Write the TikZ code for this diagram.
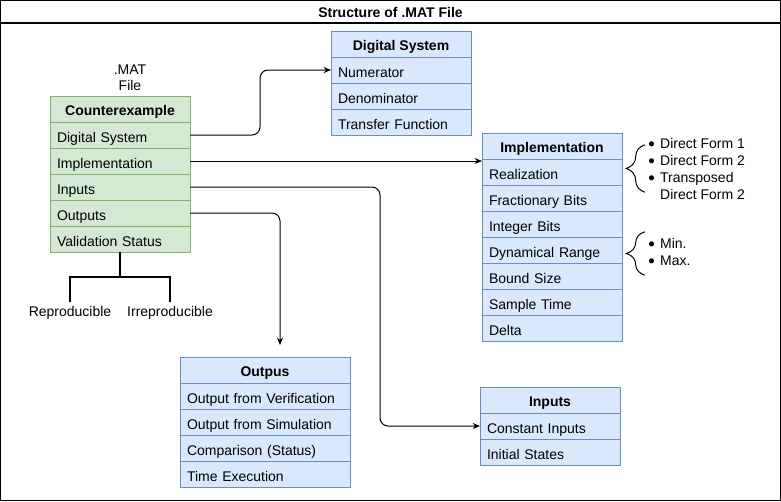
\documentclass[tikz,border=0pt]{standalone}
\usepackage{fontspec}
\setmainfont{Liberation Sans}
\usetikzlibrary{arrows.meta,decorations.pathreplacing}

\definecolor{cexfill}{HTML}{D5E8D4}
\definecolor{cexline}{HTML}{82B366}
\definecolor{boxfill}{HTML}{DAE8FC}
\definecolor{boxline}{HTML}{6C8EBF}

\newcommand\matfont{\fontsize{10.5}{12}\selectfont}
\newcommand\listfont{\fontsize{10.5}{12.75}\selectfont}
\newcommand\listdot{\raisebox{-1.3pt}{\fontsize{14}{12}\selectfont\textbullet}}

\tikzset{
  box/.style={draw, line width=0.75pt, outer sep=0pt, anchor=north west},
  head/.style={box, minimum width=#1, minimum height=19.5pt, inner sep=0pt,
    text height=9pt, text depth=0pt, font=\matfont\bfseries},
  head/.default=105pt,
  row/.style={box, text width=#1, inner xsep=5.25pt, inner ysep=0pt, minimum height=19.5pt,
    text height=11.5pt, text depth=0pt, align=left},
  row/.default=94.5pt,
  cexbox/.style={fill=cexfill, draw=cexline},
  blubox/.style={fill=boxfill, draw=boxline},
  link/.style={line width=0.75pt, rounded corners=6pt, -{Stealth[length=5.5pt,width=4.5pt]}},
  forkline/.style={line width=1.5pt},
  optlist/.style={anchor=west, inner sep=0pt, font=\listfont},
  curly/.style={line width=0.75pt, decorate, decoration={brace, amplitude=14pt}},
}

\begin{document}
\begin{tikzpicture}[x=0.75pt, y=-0.75pt, font=\matfont]
  \useasboundingbox (0,0) rectangle (781,501);

  % frame and title
  \draw[line width=0.9pt] (0.5,0.5) rectangle (780.5,500.5);
  \draw[line width=0.9pt] (0.5,23) -- (780.5,23);
  \node[font=\matfont\bfseries] (title) at (390.5,12) {Structure of .MAT File};

  % counterexample
  \node[align=center] (matfile) at (130,78) {.MAT\\File};
  \node[head, cexbox] (cexhead) at (50,96) {Counterexample};
  \node[row, cexbox] (cexds) at (cexhead.south west) {Digital System};
  \node[row, cexbox] (cexim) at (cexds.south west) {Implementation};
  \node[row, cexbox] (cexin) at (cexim.south west) {Inputs};
  \node[row, cexbox] (cexout) at (cexin.south west) {Outputs};
  \node[row, cexbox] (cexval) at (cexout.south west) {Validation Status};

  \node (repro) at (70,313) {Reproducible};
  \node (irrepro) at (170,313) {Irreproducible};
  \draw[forkline] (cexval.south) -- ++(0,25) coordinate (fork) -| (repro.north);
  \draw[forkline] (fork) -| (irrepro.north);

  % digital system
  \node[head, blubox] (dshead) at (331,31) {Digital System};
  \node[row, blubox] (dsnum) at (dshead.south west) {Numerator};
  \node[row, blubox] (dsden) at (dsnum.south west) {Denominator};
  \node[row, blubox] (dstf) at (dsden.south west) {Transfer Function};

  % implementation
  \node[head, blubox] (implhead) at (482,133) {Implementation};
  \node[row, blubox] (implreal) at (implhead.south west) {Realization};
  \node[row, blubox] (implfrac) at (implreal.south west) {Fractionary Bits};
  \node[row, blubox] (implint) at (implfrac.south west) {Integer Bits};
  \node[row, blubox] (impldyn) at (implint.south west) {Dynamical Range};
  \node[row, blubox] (implbound) at (impldyn.south west) {Bound Size};
  \node[row, blubox] (implts) at (implbound.south west) {Sample Time};
  \node[row, blubox] (impldelta) at (implts.south west) {Delta};

  \node[optlist] (realopts) at (648,171) {\begin{tabular}{@{}l@{\hspace{4pt}}l@{}}
    \listdot & Direct Form 1\\
    \listdot & Direct Form 2\\
    \listdot & Transposed\\
             & Direct Form 2
  \end{tabular}};
  \draw[curly] ([shift={(-3,-13)}]realopts.south west) -- ([shift={(-3,8)}]realopts.north west);

  \node[optlist] (rangeopts) at (648,253.5) {\begin{tabular}{@{}l@{\hspace{4pt}}l@{}}
    \listdot & Min.\\
    \listdot & Max.
  \end{tabular}};
  \draw[curly] ([shift={(-3,4.5)}]rangeopts.south west) -- ([shift={(-3,-4.5)}]rangeopts.north west);

  % outputs
  \node[head=127.5pt, blubox] (outhead) at (180,357) {Outpus};
  \node[row=117pt, blubox] (outver) at (outhead.south west) {Output from Verification};
  \node[row=117pt, blubox] (outsim) at (outver.south west) {Output from Simulation};
  \node[row=117pt, blubox] (outcmp) at (outsim.south west) {Comparison (Status)};
  \node[row=117pt, blubox] (outtime) at (outcmp.south west) {Time Execution};

  % inputs
  \node[head, blubox] (inhead) at (480,387) {Inputs};
  \node[row, blubox] (inconst) at (inhead.south west) {Constant Inputs};
  \node[row, blubox] (ininit) at (inconst.south west) {Initial States};

  % connectors
  \draw[link] (cexds.east) -- ++(70,0) |- (dsnum.west);
  \draw[link] (cexim.east) -- (cexim.east -| implhead.west);
  \draw[link] (cexin.east) -- ++(190,0) |- (inconst.west);
  \coordinate (outtip) at ([shift={(15,-12)}]outhead.north);
  \draw[link] (cexout.east) -| (outtip);

\end{tikzpicture}
\end{document}
